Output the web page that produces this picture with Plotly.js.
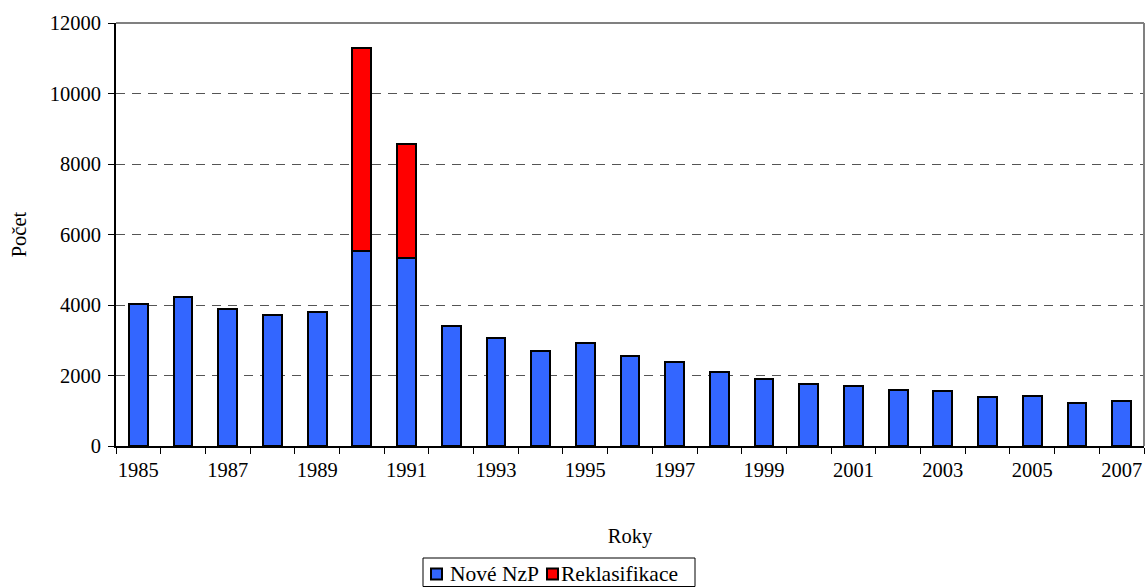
<!DOCTYPE html>
<html>
<head>
<meta charset="utf-8">
<script src="https://cdn.plot.ly/plotly-3.0.1.min.js"></script>
<style>html,body{margin:0;padding:0;background:#fff;}#chart{width:1145px;height:587px;}</style>
</head>
<body>
<div id="chart"></div>
<script>
const years = [1985,1986,1987,1988,1989,1990,1991,1992,1993,1994,1995,1996,1997,1998,1999,2000,2001,2002,2003,2004,2005,2006,2007];
const noveNzP = [4020,4230,3890,3730,3800,5530,5340,3400,3050,2700,2910,2550,2370,2100,1890,1760,1690,1600,1560,1390,1410,1220,1290];
const reklasifikace = [null,null,null,null,null,5760,3230,null,null,null,null,null,null,null,null,null,null,null,null,null,null,null,null];
const tickYears = [1985,1987,1989,1991,1993,1995,1997,1999,2001,2003,2005,2007];
const seriesNames = ["Nové NzP","Reklasifikace"];
const seriesColors = ["#3366FF","#FF0000"];

const FONT = "'Liberation Serif', 'Times New Roman', serif";
const FS = 20.5;
const LFS = 21.5;
const traces = [
  {type:"bar", x:years, y:noveNzP, name:seriesNames[0], width:0.42,
   marker:{color:seriesColors[0], line:{color:"#000000", width:2}}, hoverinfo:"skip"},
  {type:"bar", x:years, y:reklasifikace, name:seriesNames[1], width:0.42,
   marker:{color:seriesColors[1], line:{color:"#000000", width:2}}, hoverinfo:"skip"}
];

// manual legend (pixel -> paper helpers)
const L = 116, R = 1144, T = 23, B = 446;
const px = v => (v - L) / (R - L);
const py = v => (B - v) / (B - T);
const legendShapes = [
  {type:"rect", xref:"paper", yref:"paper", x0:px(423), x1:px(695), y0:py(558), y1:py(586.5),
   line:{color:"#000000", width:1}, fillcolor:"rgba(0,0,0,0)"},
  {type:"rect", xref:"paper", yref:"paper", x0:px(431), x1:px(442), y0:py(568.5), y1:py(579.5),
   line:{color:"#000000", width:2}, fillcolor:seriesColors[0]},
  {type:"rect", xref:"paper", yref:"paper", x0:px(547), x1:px(558), y0:py(568.5), y1:py(579.5),
   line:{color:"#000000", width:2}, fillcolor:seriesColors[1]}
];
const legendAnn = [
  {xref:"paper", yref:"paper", x:px(448), y:py(574), xanchor:"left", yanchor:"middle", showarrow:false,
   text:seriesNames[0], font:{family:FONT, size:LFS, color:"#000"}},
  {xref:"paper", yref:"paper", x:px(559), y:py(574), xanchor:"left", yanchor:"middle", showarrow:false,
   text:seriesNames[1], font:{family:FONT, size:LFS, color:"#000"}}
];

const layout = {
  width:1145, height:587,
  margin:{l:L, r:1145-R, t:T, b:587-B, autoexpand:false},
  paper_bgcolor:"#ffffff", plot_bgcolor:"#ffffff",
  barmode:"stack",
  font:{family:FONT, size:FS, color:"#000000"},
  showlegend:false,
  xaxis:{
    range:[1984.5, 2007.5], tickmode:"array", tickvals:tickYears, ticktext:tickYears.map(String),
    ticks:"", showgrid:false, zeroline:false,
    showline:true, linecolor:"#000000", linewidth:2,
    minor:{ticks:"outside", tickmode:"linear", tick0:1984.5, dtick:1, ticklen:6, tickcolor:"#000000", tickwidth:1, showgrid:false},
    title:{text:"Roky", font:{family:FONT, size:FS}, standoff:49},
    tickfont:{family:FONT, size:FS}, ticklabelstandoff:4
  },
  yaxis:{
    range:[0,12000], tickmode:"linear", tick0:0, dtick:2000, tickformat:"d",
    ticks:"outside", ticklen:6, tickcolor:"#000000", tickwidth:1,
    showline:true, linecolor:"#000000", linewidth:2,
    showgrid:true, gridcolor:"#555555", gridwidth:1, griddash:"9px,7px",
    zeroline:false, ticklabelstandoff:3,
    title:{text:"Počet", font:{family:FONT, size:FS}, standoff:17},
    tickfont:{family:FONT, size:FS}
  },
  shapes:[
    {type:"line", xref:"paper", yref:"paper", x0:0, x1:1, y0:1, y1:1, line:{color:"#808080", width:2}},
    {type:"line", xref:"paper", yref:"paper", x0:1, x1:1, y0:0, y1:1, line:{color:"#808080", width:2}}
  ].concat(legendShapes),
  annotations:legendAnn
};
Plotly.newPlot("chart", traces, layout, {displayModeBar:false, staticPlot:true});
</script>
</body>
</html>
